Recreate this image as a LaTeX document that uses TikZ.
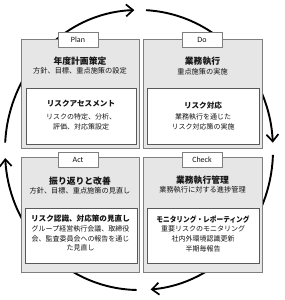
\documentclass[tikz,border=0pt]{standalone}
\usepackage{fontspec}
\setmainfont{Noto Sans CJK JP}
\newfontfamily\tabfont{Carlito}
\usetikzlibrary{arrows.meta}
\definecolor{quadfill}{HTML}{E6E6E6}
\definecolor{quadline}{HTML}{7F7F7F}
\definecolor{boxline}{HTML}{595959}
\definecolor{txt}{HTML}{141414}
\begin{document}
\begin{tikzpicture}[x=1pt,y=1pt,
  quad/.style={draw=quadline,fill=quadfill,line width=0.8pt,anchor=north west,inner sep=0pt},
  wbox/.style={draw=boxline,fill=white,line width=0.8pt,anchor=north west,inner sep=0pt},
  tabbox/.style={draw=quadline,fill=white,line width=0.8pt,minimum width=40,minimum height=15,inner sep=0pt,font=\tabfont\fontsize{8}{9}\selectfont,text=txt},
  qtitle/.style={font=\bfseries\fontsize{8.8}{10}\selectfont,text=txt,inner sep=0pt},
  qsub/.style={font=\fontsize{7.2}{8}\selectfont,text=txt,inner sep=0pt},
  bhead/.style={font=\bfseries\fontsize{7.6}{9}\selectfont,text=txt,inner sep=0pt},
  bbody/.style={font=\fontsize{7}{9.7}\selectfont,text=txt,inner sep=0pt,align=center},
  cyc/.style={line width=1.9pt,-{Straight Barb[length=7pt,width=12pt,line width=1.7pt]}}
]
\useasboundingbox (0,0) rectangle (284,300);
\coordinate (c) at (139,150);
% cycle arrows
\draw[cyc] (c) ++(177:134pt and 140pt) arc[start angle=177,end angle=92,x radius=134pt,y radius=140pt];
\draw[cyc] (c) ++(87:134pt and 140pt) arc[start angle=87,end angle=3,x radius=134pt,y radius=140pt];
\draw[cyc] (c) ++(-2:134pt and 140pt) arc[start angle=-2,end angle=-85,x radius=134pt,y radius=140pt];
\draw[cyc] (c) ++(-91:134pt and 140pt) arc[start angle=-91,end angle=-176.7,x radius=134pt,y radius=140pt];
% quadrants
\node[quad,minimum width=118,minimum height=109] (planq) at (21,261) {};
\node[quad,minimum width=119,minimum height=109] (doq) at (143,261) {};
\node[quad,minimum width=118,minimum height=115] (actq) at (21,143) {};
\node[quad,minimum width=119,minimum height=115] (checkq) at (143,143) {};
% tabs
\node[tabbox] (plantab) at (78,260.5) {Plan};
\node[tabbox] (dotab) at (202,260.5) {Do};
\node[tabbox] (acttab) at (78,140) {Act};
\node[tabbox] (checktab) at (202,140) {Check};
% white boxes
\node[wbox,minimum width=110,minimum height=56] (planw) at (26,212) {};
\node[wbox,minimum width=112,minimum height=56] (dow) at (147,212) {};
\node[wbox,minimum width=112,minimum height=55] (actw) at (24.5,92) {};
\node[wbox,minimum width=112,minimum height=55] (checkw) at (147,92) {};
% Plan texts
\node[qtitle] (plant) at (80,239) {年度計画策定};
\node[qsub] (plans) at (80,229) {方針、目標、重点施策の設定};
\node[bhead] (planh) at (81,196) {リスクアセスメント};
\node[bbody] (planb) at (81,178) {リスクの特定、分析、\\評価、対応策設定};
% Do texts
\node[qtitle] (dot) at (202.5,239) {業務執行};
\node[qsub] (dos) at (202.5,228.5) {重点施策の実施};
\node[bhead] (doh) at (203,194.5) {リスク対応};
\node[bbody] (dob) at (203,178) {業務執行を通じた\\リスク対応策の実施};
% Act texts
\node[qtitle] (actt) at (80,119) {振り返りと改善};
\node[qsub] (acts) at (80,109) {方針、目標、重点施策の見直し};
\node[bhead] (acth) at (80.5,81) {リスク認識、対応策の見直し};
\node[bbody] (actb) at (80.5,61.5) {グループ経営執行会議、取締役\\会、監査委員会への報告を通じ\\た見直し};
% Check texts
\node[qtitle] (checkt) at (202.5,120) {業務執行管理};
\node[qsub] (checks) at (202.5,110) {業務執行に対する進捗管理};
\node[bhead] (checkh) at (203,80) {\scalebox{0.88}[1]{モニタリング・レポーティング}};
\node[bbody] (checkb) at (203,61) {重要リスクのモニタリング\\社内外環境認識更新\\半期毎報告};
\end{tikzpicture}
\end{document}
